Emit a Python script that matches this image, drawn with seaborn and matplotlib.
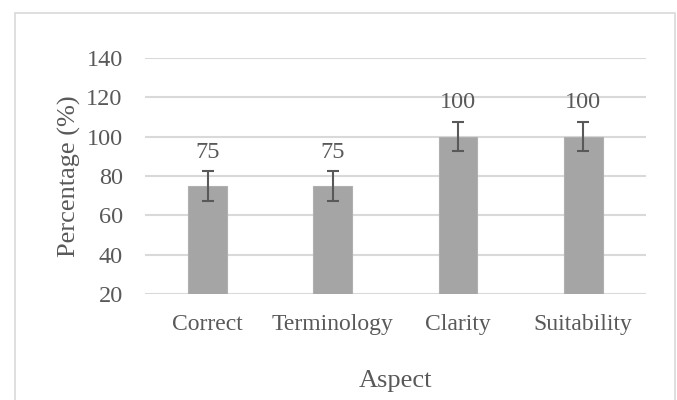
import matplotlib
matplotlib.use("Agg")
import matplotlib.pyplot as plt
import seaborn as sns
import pandas as pd
from matplotlib.patches import Rectangle

sns.set_theme(style="white")
plt.rcParams["font.family"] = ["Liberation Serif", "DejaVu Serif"]

aspects = ["Correct", "Terminology", "Clarity", "Suitability"]
percent = [75, 75, 100, 100]
errors = [7.5, 7.5, 7.5, 7.5]

df = pd.DataFrame({"Aspect": aspects, "Percentage": percent})

TEXT = "#595959"
fig = plt.figure(figsize=(6.77, 4.0), dpi=100)
ax = fig.add_axes([0.214, 0.264, 0.740, 0.592])

sns.barplot(data=df, x="Aspect", y="Percentage", color="#a5a5a5",
            width=0.31, saturation=1, edgecolor="#b0b0b0", linewidth=0.8,
            ax=ax, zorder=2)
ax.errorbar(range(len(aspects)), percent, yerr=errors, fmt="none",
            ecolor="#595959", elinewidth=1.5, capsize=4, capthick=1.5, zorder=3)

for i, (v, e) in enumerate(zip(percent, errors)):
    ax.annotate(str(v), (i, v + e), xytext=(0, 6), textcoords="offset points",
                ha="center", va="bottom", fontsize=17.5, color=TEXT)

ax.set_ylim(20, 140)
ax.set_xlim(-0.5, 3.5)
ax.set_yticks(range(20, 141, 20))
ax.yaxis.grid(True, color="#d9d9d9", linewidth=1.5, zorder=0)
ax.set_axisbelow(True)
for s in ax.spines.values():
    s.set_visible(False)
ax.tick_params(axis="y", length=0, labelsize=17.5, colors=TEXT, pad=16)
ax.tick_params(axis="x", length=0, labelsize=17, colors=TEXT, pad=14)
ax.set_xlabel("Aspect", fontsize=19, color=TEXT, labelpad=25)
ax.set_ylabel("Percentage (%)", fontsize=19, color=TEXT, labelpad=4)

fig.patches.append(Rectangle((15 / 677, -0.05), 660 / 677, 1.05 - 13 / 400,
                             transform=fig.transFigure, fill=False,
                             edgecolor="#d9d9d9", linewidth=1.2))

fig.savefig("out.png", dpi=100)
